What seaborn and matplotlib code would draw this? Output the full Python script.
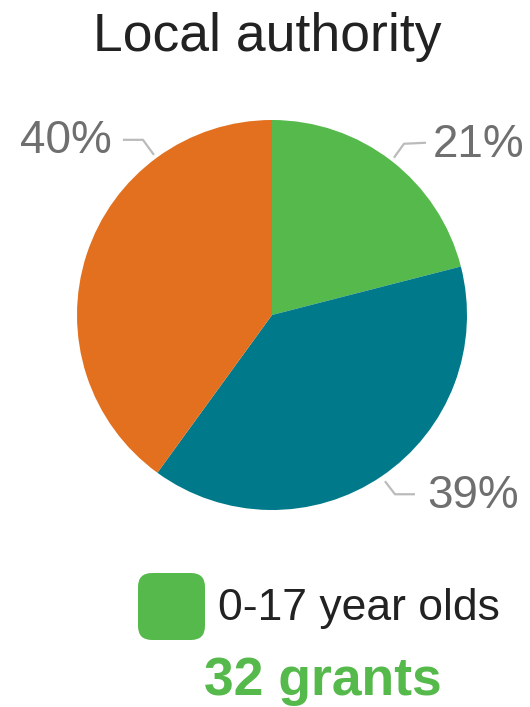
import numpy as np
import matplotlib
matplotlib.use("Agg")
import matplotlib.pyplot as plt
from matplotlib.patches import FancyBboxPatch
import seaborn as sns

# ---- data ----
title = "Local authority"
categories = ["0-17 year olds", "18-25 year olds", "26+ year olds"]
values = [21, 39, 40]
labels = ["21%", "39%", "40%"]
colors = ["#55B94B", "#007A8A", "#E2701E"]
legend_label = "0-17 year olds"
grants_text = "32 grants"

sns.set_theme(style="white")
plt.rcParams['font.family'] = ['Liberation Sans', 'DejaVu Sans']

W, H = 530, 707
fig = plt.figure(figsize=(W / 100, H / 100), dpi=100)
ax = fig.add_axes([0, 0, 1, 1])

def Y(y):
    return H - y

cx, cy, R = 272, 315, 195
wedges, _ = ax.pie(values, colors=colors, startangle=90, counterclock=False,
                   center=(cx, Y(cy)), radius=R,
                   wedgeprops=dict(linewidth=0, antialiased=True))
ax.set_xlim(0, W)
ax.set_ylim(0, H)
ax.set_aspect('auto')
ax.axis('off')

# title
ax.text(267, Y(51), title, ha='center', va='baseline', fontsize=38.5, color='#222222')

# labels with leader lines
lc = '#BBBBBB'
tc = '#6F6F6F'
fs = 33
fr = np.cumsum([0] + values) / sum(values)
def edge_pt(angle_deg, rr):
    a = np.deg2rad(angle_deg)
    return cx + rr * np.cos(a), cy - rr * np.sin(a)

# green (21%)
ang_g = 90 - (fr[0] + fr[1]) / 2 * 360
sx, sy = edge_pt(ang_g, R + 4)
ax.plot([sx, sx + 10, sx + 32], [Y(sy), Y(sy - 14), Y(sy - 15)], color=lc, lw=1.6,
        solid_capstyle='butt')
ax.text(433, Y(157), labels[0], ha='left', va='baseline', fontsize=fs, color=tc)

# teal (39%)
ang_t = 90 - (fr[1] + fr[2]) / 2 * 360
sx, sy = edge_pt(ang_t, R + 6)
ax.plot([sx, sx + 10, sx + 30], [Y(sy), Y(sy + 13), Y(sy + 13)], color=lc, lw=1.6,
        solid_capstyle='butt')
ax.text(427, Y(508), labels[1], ha='left', va='baseline', fontsize=fs, color=tc)

# orange (40%) - label placed at upper left
sx, sy = edge_pt(126.4, R + 4)
ax.plot([sx, sx - 11, sx - 31], [Y(sy), Y(sy - 15), Y(sy - 15)], color=lc, lw=1.6,
        solid_capstyle='butt')
ax.text(112, Y(153), labels[2], ha='right', va='baseline', fontsize=fs, color=tc)

# legend
box = FancyBboxPatch((138 + 14, Y(640) + 14), 67 - 28, 67 - 28,
                     boxstyle="round,pad=14", facecolor=colors[0], edgecolor='none')
ax.add_patch(box)
ax.text(218, Y(620), legend_label, ha='left', va='baseline', fontsize=32, color='#222222')
ax.text(323, Y(695), grants_text, ha='center', va='baseline', fontsize=38.5,
        fontweight='bold', color=colors[0])

fig.savefig("out.png", dpi=100)
